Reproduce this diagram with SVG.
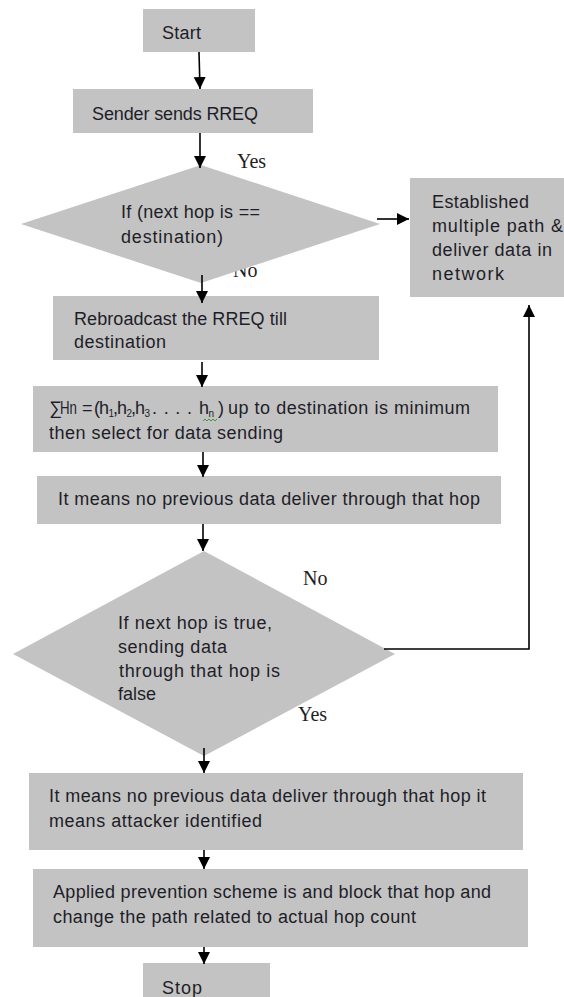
<svg xmlns="http://www.w3.org/2000/svg" width="564" height="997" viewBox="0 0 564 997">
<style>
.box{fill:#c3c3c3;stroke:none}
.t{font-family:"Liberation Sans",Arial,sans-serif;font-size:18px;fill:#1e1e28}
.s{font-family:"Liberation Sans",Arial,sans-serif;font-size:10px;fill:#1e1e28}
.lbl{font-family:"Liberation Serif","Times New Roman",serif;font-size:20px;fill:#1e1e1e}
.c{fill:none;stroke:#000;stroke-width:1.6}
</style>
<defs>
<marker id="ah" viewBox="0 0 12 12" refX="12" refY="6" markerWidth="12" markerHeight="13" markerUnits="userSpaceOnUse" orient="auto">
<path d="M0,0 L12,6 L0,12 z" fill="#000"/>
</marker>
</defs>
<rect width="564" height="997" fill="#fff"/>
<g id="edge-labels">
<text class="lbl" x="237" y="168">Yes</text>
<text class="lbl" x="233" y="277">No</text>
<text class="lbl" x="303" y="585">No</text>
<text class="lbl" x="298" y="721">Yes</text>
</g>
<g id="start">
<rect class="box" x="143" y="9" width="112" height="43"/>
<text class="t" x="162" y="39" textLength="39" lengthAdjust="spacing">Start</text>
</g>
<g id="sender">
<rect class="box" x="73" y="89" width="240" height="44"/>
<text class="t" x="92" y="120" textLength="166" lengthAdjust="spacing">Sender sends RREQ</text>
</g>
<g id="decision1">
<polygon class="box" points="201,165 380,224 201,283 21,224"/>
<text class="t" x="121" y="218" textLength="139" lengthAdjust="spacing">If (next hop is ==</text>
<text class="t" x="121" y="243" textLength="102" lengthAdjust="spacing">destination)</text>
</g>
<g id="established">
<rect class="box" x="410" y="178" width="154" height="119"/>
<text class="t" x="432" y="208" textLength="97" lengthAdjust="spacing">Established</text>
<text class="t" x="432" y="232" textLength="131" lengthAdjust="spacing">multiple path &amp;</text>
<text class="t" x="432" y="256" textLength="120" lengthAdjust="spacing">deliver data in</text>
<text class="t" x="432" y="280" textLength="72" lengthAdjust="spacing">network</text>
</g>
<g id="rebroadcast">
<rect class="box" x="53" y="296" width="326" height="64"/>
<text class="t" x="74" y="325" textLength="213" lengthAdjust="spacing">Rebroadcast the RREQ till</text>
<text class="t" x="74" y="348" textLength="92" lengthAdjust="spacing">destination</text>
</g>
<g id="sum">
<rect class="box" x="33" y="386" width="465" height="66"/>
<text class="t" x="49" y="414">∑</text>
<text class="t" x="60" y="414" textLength="17" lengthAdjust="spacingAndGlyphs">Hn</text>
<text class="t" x="82" y="414">=</text>
<text class="t" x="94" y="414">(</text>
<text class="t" x="99" y="414">h</text>
<text class="s" x="108.5" y="417">1</text>
<text class="t" x="113" y="414">,</text>
<text class="t" x="117" y="414">h</text>
<text class="s" x="126.5" y="417">2</text>
<text class="t" x="131" y="414">,</text>
<text class="t" x="135" y="414">h</text>
<text class="s" x="144.5" y="417">3</text>
<text class="t" x="152" y="414" textLength="40" lengthAdjust="spacing">....</text>
<text class="t" x="199" y="414">h</text>
<text class="s" x="208.5" y="417">n</text>
<text class="t" x="218" y="414">)</text>
<text class="t" x="228" y="414" textLength="242" lengthAdjust="spacing">up to destination is minimum</text>
<text class="t" x="49" y="439" textLength="234" lengthAdjust="spacing">then select for data sending</text>
<path d="M203,421 l2,-2 l2,2 l2,-2 l2,2 l2,-2 l2,2 l2,-2" fill="none" stroke="#3a9a3a" stroke-width="1"/>
</g>
<g id="no-previous">
<rect class="box" x="37" y="476" width="464" height="48"/>
<text class="t" x="58" y="505" textLength="422" lengthAdjust="spacing">It means no previous data deliver through that hop</text>
</g>
<g id="decision2">
<polygon class="box" points="204,551 395,654 204,756 13,654"/>
<text class="t" x="118" y="629" textLength="154" lengthAdjust="spacing">If next hop is true,</text>
<text class="t" x="118" y="653" textLength="109" lengthAdjust="spacing">sending data</text>
<text class="t" x="119" y="677" textLength="161" lengthAdjust="spacing">through that hop is</text>
<text class="t" x="118" y="700" textLength="38" lengthAdjust="spacing">false</text>
</g>
<g id="attacker">
<rect class="box" x="29" y="773" width="494" height="77"/>
<text class="t" x="49" y="802" textLength="437" lengthAdjust="spacing">It means no previous data deliver through that hop it</text>
<text class="t" x="49" y="827" textLength="213" lengthAdjust="spacing">means attacker identified</text>
</g>
<g id="prevention">
<rect class="box" x="33" y="869" width="495" height="78"/>
<text class="t" x="53" y="898" textLength="438" lengthAdjust="spacing">Applied prevention scheme is and block that hop and</text>
<text class="t" x="53" y="923" textLength="363" lengthAdjust="spacing">change the path related to actual hop count</text>
</g>
<g id="stop">
<rect class="box" x="143" y="963" width="127" height="40"/>
<text class="t" x="162" y="994" textLength="40" lengthAdjust="spacing">Stop</text>
</g>
<g id="connectors">
<line class="c" x1="199" y1="52" x2="200" y2="89" marker-end="url(#ah)"/>
<line class="c" x1="200" y1="133" x2="200" y2="168" marker-end="url(#ah)"/>
<line class="c" x1="377" y1="219" x2="409" y2="219" marker-end="url(#ah)"/>
<line class="c" x1="202" y1="275" x2="202" y2="303" marker-end="url(#ah)"/>
<line class="c" x1="202" y1="362" x2="202" y2="387" marker-end="url(#ah)"/>
<line class="c" x1="203" y1="452" x2="203" y2="477" marker-end="url(#ah)"/>
<line class="c" x1="203" y1="524" x2="203" y2="551" marker-end="url(#ah)"/>
<polyline class="c" points="384,649 529,649 529,305" marker-end="url(#ah)"/>
<line class="c" x1="204" y1="748" x2="204" y2="773" marker-end="url(#ah)"/>
<line class="c" x1="204" y1="850" x2="204" y2="869" marker-end="url(#ah)"/>
<line class="c" x1="204" y1="947" x2="204" y2="964" marker-end="url(#ah)"/>
</g>
</svg>
